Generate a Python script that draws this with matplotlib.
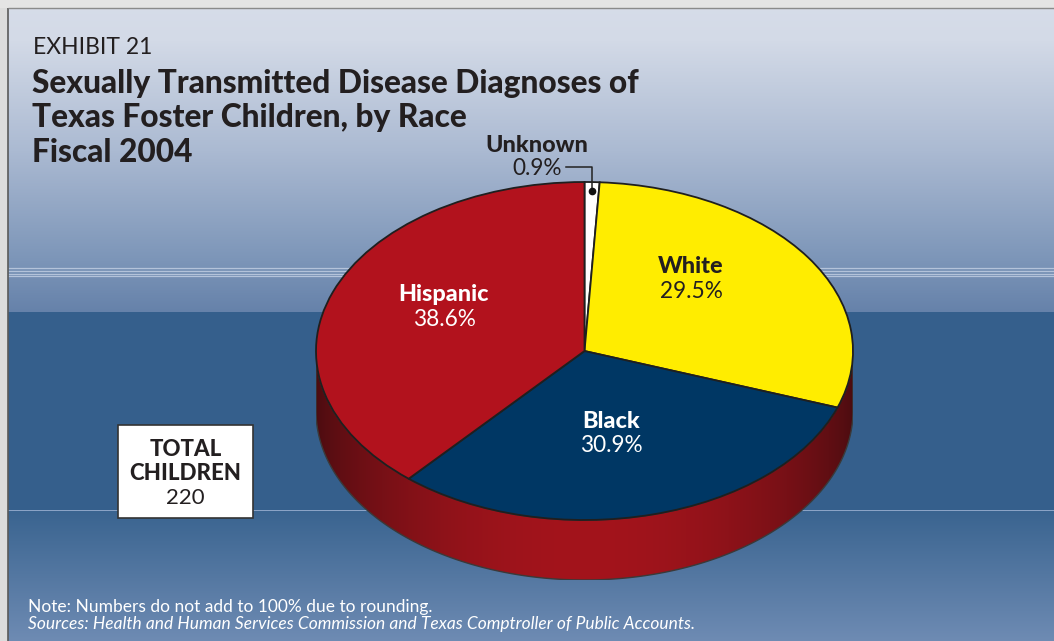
import numpy as np
import matplotlib
matplotlib.use("Agg")
import matplotlib.pyplot as plt
from matplotlib.colors import to_rgb
from matplotlib.patches import Polygon, Rectangle

plt.rcParams["font.family"] = ["Lato", "DejaVu Sans"]

# ---- data -------------------------------------------------------------
categories = ["Unknown", "White", "Black", "Hispanic"]
shares = [0.9, 29.5, 30.9, 38.6]
slice_colors = ["#ffffff", "#ffed00", "#003764", "#b2121d"]
total_children = 220

exhibit = "EXHIBIT 21"
title_lines = ["Sexually Transmitted Disease Diagnoses of",
               "Texas Foster Children, by Race",
               "Fiscal 2004"]
note = "Note: Numbers do not add to 100% due to rounding."
source = "Sources: Health and Human Services Commission and Texas Comptroller of Public Accounts."

# ---- figure -----------------------------------------------------------
W, H = 1054, 641
fig = plt.figure(figsize=(W / 100, H / 100), dpi=100)

# background layer, pixel coordinates (y down)
bg = fig.add_axes([0, 0, 1, 1], zorder=0)
bg.set_xlim(0, W)
bg.set_ylim(H, 0)
bg.axis("off")


def vertical_gradient(stops, n):
    ys = np.arange(n)
    pos = [p for p, _ in stops]
    cols = np.array([to_rgb(c) for _, c in stops])
    return np.stack([np.interp(ys, pos, cols[:, k]) for k in range(3)], axis=1)


stops = [(0, "#d7dde9"), (40, "#d3dae7"), (150, "#abbad2"), (260, "#7c95b8"),
         (311, "#6682aa"), (312, "#355f8c"), (509, "#355f8c"),
         (510, "#8aa3c6"), (511, "#3a6490"), (640, "#6e8bb3")]
rows = vertical_gradient(stops, H)
img = np.repeat(rows[:, None, :], W, axis=1)
bg.imshow(img, extent=(0, W, H, 0), aspect="auto", interpolation="nearest")

# thin highlight rules across the upper band
bg.hlines([268, 271, 273.5, 276], 8, W, colors="#b4c3da", lw=0.9)

# page frame: grey margins on left and top
bg.add_patch(Rectangle((0, 0), 8, H, color="#dcdcdc", lw=0))
bg.add_patch(Rectangle((0, 0), W, 8, color="#e4e4e4", lw=0))
bg.vlines(7.5, 8, H, colors="#5a5a5a", lw=1.2)
bg.hlines(8, 8, W, colors="#8a8a8a", lw=1.0)

# ---- 3-D pie ----------------------------------------------------------
cx, cy, rx, ry, depth = 584.5, 351.0, 268.5, 169.0, 60.0
d = depth / ry
pie_ax = fig.add_axes([(cx - rx) / W, 1 - (cy + ry + depth) / H,
                       2 * rx / W, (2 * ry + depth) / H], zorder=2)
pie_ax.patch.set_visible(False)

# rim (front half of the cylinder wall)
t = np.linspace(np.pi, 2 * np.pi, 300)
top = np.column_stack([np.cos(t), np.sin(t)])
bot = np.column_stack([np.cos(t[::-1]), np.sin(t[::-1]) - d])
rim = Polygon(np.vstack([top, bot]), closed=True, facecolor="none",
              edgecolor="#3a3a3a", lw=1.0, zorder=1)
pie_ax.add_patch(rim)

xs = np.linspace(-1, 1, 400)
shade = np.cos(xs * np.pi / 2) ** 0.7
dark = np.array(to_rgb("#4a0c10"))
bright = np.array(to_rgb("#a3141c"))
grad = dark[None, :] + (bright - dark)[None, :] * shade[:, None]
rim_img = pie_ax.imshow(np.repeat(grad[None, :, :], 2, axis=0),
                        extent=(-1, 1, -1 - d, 1), aspect="auto",
                        interpolation="bilinear", zorder=0.9)
rim_img.set_clip_path(rim)

wedges, _ = pie_ax.pie(shares, colors=slice_colors, startangle=90,
                       counterclock=False, radius=1,
                       wedgeprops=dict(edgecolor="#1f1f1f", linewidth=1.3))
for w in wedges:
    w.set_zorder(2)
pie_ax.set_aspect("auto")
pie_ax.set_xlim(-1, 1)
pie_ax.set_ylim(-1 - d, 1)
pie_ax.axis("off")

# leader for the thin "Unknown" slice
unk = wedges[0]
mid = np.deg2rad((unk.theta1 + unk.theta2) / 2)
px, py = 0.95 * np.cos(mid), 0.95 * np.sin(mid)
top_y = (cy - 167.5) / ry
left_x = (566 - cx) / rx
pie_ax.plot([px, px, left_x], [py, top_y, top_y], color="#222222", lw=1.1,
            clip_on=False, zorder=3)
pie_ax.plot([px], [py], "o", color="#111111", ms=4.5, clip_on=False, zorder=3)

# ---- text layer -------------------------------------------------------
tx = fig.add_axes([0, 0, 1, 1], zorder=5)
tx.set_xlim(0, W)
tx.set_ylim(H, 0)
tx.axis("off")

dark_txt = "#231f20"
tx.text(33, 54, exhibit, fontsize=16.5, color=dark_txt, va="baseline")
for i, line in enumerate(title_lines):
    tx.text(32, 93 + 34.5 * i, line, fontsize=22.8, fontweight="black",
            color=dark_txt, va="baseline")

label_pos = {
    "Unknown": (537, 151.5, 175, dark_txt),
    "White": (691, 273, 298, dark_txt),
    "Black": (611, 428, 452, "white"),
    "Hispanic": (444, 301, 326, "white"),
}
for name, val in zip(categories, shares):
    x, yb1, yb2, c = label_pos[name]
    tx.text(x, yb1, name, fontsize=16.8, fontweight="black", color=c,
            ha="center", va="baseline")
    tx.text(x, yb2, f"{val:.1f}%", fontsize=16.3, color=c,
            ha="center", va="baseline")

# total box
tx.add_patch(Rectangle((118, 425), 135, 93, facecolor="white",
                       edgecolor="#333333", lw=1.2))
tx.text(185.5, 456.5, "TOTAL", fontsize=16, fontweight="black",
        color=dark_txt, ha="center", va="baseline")
tx.text(185.5, 480.5, "CHILDREN", fontsize=16, fontweight="black",
        color=dark_txt, ha="center", va="baseline")
tx.text(185.5, 504.5, f"{total_children}", fontsize=16,
        color=dark_txt, ha="center", va="baseline")

tx.text(28, 612, note, fontsize=12.5, color="white", va="baseline")
tx.text(28, 628.5, source, fontsize=12.5, color="white", style="italic",
        va="baseline")

fig.savefig("out.png", dpi=100)
